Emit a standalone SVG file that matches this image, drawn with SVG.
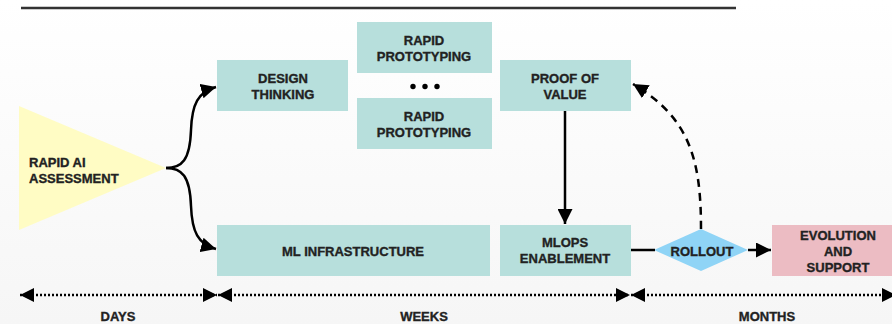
<svg xmlns="http://www.w3.org/2000/svg" width="892" height="324" viewBox="0 0 892 324">
<defs>
<linearGradient id="bg" x1="0" y1="0" x2="0" y2="1">
<stop offset="0" stop-color="#ffffff"/>
<stop offset="1" stop-color="#f6f6f6"/>
</linearGradient>
<marker id="ah" viewBox="0 0 10 10" refX="10" refY="5" markerWidth="15" markerHeight="15" markerUnits="userSpaceOnUse" orient="auto">
<path d="M0,0 L10,5 L0,10 Z" fill="#000"/>
</marker>
<marker id="ahs" viewBox="0 0 10 10" refX="10" refY="5" markerWidth="15" markerHeight="15" markerUnits="userSpaceOnUse" orient="auto">
<path d="M0,0 L10,5 L0,10 Z" fill="#000"/>
</marker>
<marker id="tl" viewBox="0 0 10 10" refX="10" refY="5" markerWidth="14" markerHeight="14" markerUnits="userSpaceOnUse" orient="auto">
<path d="M0,0 L10,5 L0,10 Z" fill="#000"/>
</marker>
<marker id="tls" viewBox="0 0 10 10" refX="0" refY="5" markerWidth="14" markerHeight="14" markerUnits="userSpaceOnUse" orient="auto">
<path d="M10,0 L0,5 L10,10 Z" fill="#000"/>
</marker>
</defs>
<style>
.box{fill:#b7dfdc}
.t{font-family:"Liberation Sans",Arial,sans-serif;font-weight:700;font-size:13px;fill:#222;stroke:#222;stroke-width:0.35;text-anchor:middle}
.c{fill:none;stroke:#000;stroke-width:2.5}
.dot{fill:none;stroke:#000;stroke-width:2.5;stroke-dasharray:2 2}
</style>
<rect width="892" height="324" fill="url(#bg)"/>
<line x1="21" y1="8" x2="736" y2="8" stroke="#333" stroke-width="2.5"/>

<g id="assessment">
<polygon points="19,106 166,168 19,230" fill="#fffcc4"/>
<text class="t" style="text-anchor:start" x="29" y="167">RAPID AI</text>
<text class="t" style="text-anchor:start" x="29" y="183">ASSESSMENT</text>
</g>
<g id="design">
<rect class="box" x="217" y="60" width="131" height="51"/>
<text class="t" x="283" y="83">DESIGN</text>
<text class="t" x="283" y="99">THINKING</text>
</g>
<g id="proto1">
<rect class="box" x="357" y="22" width="135" height="51"/>
<text class="t" x="424" y="45">RAPID</text>
<text class="t" x="424" y="61">PROTOTYPING</text>
</g>
<g id="dots">
<circle cx="413" cy="86.5" r="2.7" fill="#000"/>
<circle cx="425" cy="86.5" r="2.7" fill="#000"/>
<circle cx="437" cy="86.5" r="2.7" fill="#000"/>
</g>
<g id="proto2">
<rect class="box" x="357" y="98" width="135" height="51"/>
<text class="t" x="424" y="121">RAPID</text>
<text class="t" x="424" y="137">PROTOTYPING</text>
</g>
<g id="mlinfra">
<rect class="box" x="217" y="225" width="273" height="51"/>
<text class="t" x="353" y="256">ML INFRASTRUCTURE</text>
</g>
<g id="pov">
<rect class="box" x="500" y="60" width="131" height="51"/>
<text class="t" x="565" y="83">PROOF OF</text>
<text class="t" x="565" y="99">VALUE</text>
</g>
<g id="mlops">
<rect class="box" x="500" y="225" width="131" height="51"/>
<text class="t" x="565" y="247">MLOPS</text>
<text class="t" x="565" y="263">ENABLEMENT</text>
</g>
<g id="rollout">
<polygon points="654,250 701,229 748,250 701,271" fill="#8fd4f6"/>
<text class="t" x="702" y="256">ROLLOUT</text>
</g>
<g id="evolution">
<rect x="772" y="225" width="125" height="51" fill="#ecbcc3"/>
<text class="t" x="838" y="240">EVOLUTION</text>
<text class="t" x="838" y="256">AND</text>
<text class="t" x="838" y="272">SUPPORT</text>
</g>

<g id="connectors">
<path class="c" d="M166,168 C182,168 190,160 191,130 C192,104 198,92 216,87" marker-end="url(#ah)"/>
<path class="c" d="M166,168 C182,168 190,176 191,206 C192,232 198,244 216,249" marker-end="url(#ah)"/>
<line class="c" x1="565" y1="111" x2="565" y2="224" marker-end="url(#ahs)"/>
<line class="c" x1="631" y1="250" x2="655" y2="250"/>
<line class="c" x1="748" y1="250" x2="771" y2="250" marker-end="url(#ahs)"/>
<path class="c" stroke-dasharray="8 6" d="M701,229 C701,160 690,118 633,84" marker-end="url(#ahs)"/>
</g>

<g id="timeline">
<line class="dot" x1="20" y1="295" x2="217" y2="295" marker-start="url(#tls)" marker-end="url(#tl)"/>
<line class="dot" x1="218" y1="295" x2="630" y2="295" marker-start="url(#tls)" marker-end="url(#tl)"/>
<line class="dot" x1="631" y1="295" x2="896" y2="295" marker-start="url(#tls)" marker-end="url(#tl)"/>
<text class="t" x="118" y="321">DAYS</text>
<text class="t" x="424" y="321">WEEKS</text>
<text class="t" x="767" y="321">MONTHS</text>
</g>
</svg>
